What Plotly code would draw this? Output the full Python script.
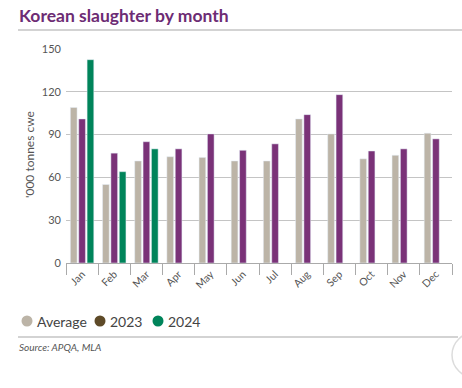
import plotly.graph_objects as go

months = ["Jan", "Feb", "Mar", "Apr", "May", "Jun", "Jul", "Aug", "Sep", "Oct", "Nov", "Dec"]
average = [109, 55, 71.5, 74.5, 74, 71.5, 71.5, 101, 90.5, 73, 75.5, 91]
y2023 = [101, 77, 85, 80, 90.5, 79, 83.5, 104, 118, 78.5, 80, 87]
y2024 = [142.5, 64, 80]
months_2024 = months[:3]
legend_names = ["Average", "2023", "2024"]

C_AVG = "#bcb4a7"
C_23 = "#7a3278"
C_24 = "#00845a"
C_23_LEG = "#5e4a28"
legend_colors = [C_AVG, C_23_LEG, C_24]

W, H = 462, 388
L, T = 66, 49
R = W - 452
B = H - 263
PW = W - L - R
PH = H - T - B


def px(x):
    return (x - L) / PW


def py(y):
    return (H - B - y) / PH


fig = go.Figure()
fig.add_trace(go.Bar(x=months, y=average, marker_color=C_AVG, name="Average"))
fig.add_trace(go.Bar(x=months, y=y2023, marker_color=C_23, name="2023"))
fig.add_trace(go.Bar(x=months_2024, y=y2024, marker_color=C_24, name="2024"))

annotations = [
    dict(text="<b>Korean slaughter by month</b>", xref="paper", yref="paper",
         x=px(17), y=py(15), xanchor="left", yanchor="middle",
         showarrow=False, font=dict(size=17.5, color="#6d2c74", family="Lato, sans-serif")),
    dict(text="<i>Source: APQA, MLA</i>", xref="paper", yref="paper",
         x=px(17), y=py(347), xanchor="left", yanchor="middle",
         showarrow=False, font=dict(size=10, color="#555")),
    dict(text="'000 tonnes cwe", xref="paper", yref="paper", x=px(29), y=py(155),
         xanchor="center", yanchor="middle", textangle=-90, showarrow=False,
         font=dict(size=12, color="#555")),
]
shapes = [
    dict(type="line", xref="paper", yref="paper", x0=px(18), x1=px(470),
         y0=py(30), y1=py(30), line=dict(color="#a8a8a8", width=1.2)),
    dict(type="line", xref="paper", yref="paper", x0=px(18), x1=px(458),
         y0=py(337), y1=py(337), line=dict(color="#a8a8a8", width=1.2)),
    dict(type="circle", xref="paper", yref="paper", x0=px(452), x1=px(500),
         y0=py(378), y1=py(332), line=dict(color="#dcdcdc", width=1.5), fillcolor="white"),
]

leg_cx = [27, 100, 158]
for name, col, cx in zip(legend_names, legend_colors, leg_cx):
    shapes.append(dict(type="circle", xref="paper", yref="paper",
                       x0=px(cx - 5.5), x1=px(cx + 5.5), y0=py(326.5), y1=py(315.5),
                       line=dict(width=0), fillcolor=col))
    annotations.append(dict(text=name, xref="paper", yref="paper", x=px(cx + 8), y=py(321),
                            xanchor="left", yanchor="middle", showarrow=False,
                            font=dict(size=14, color="#444")))

fig.update_layout(
    width=W, height=H,
    margin=dict(l=L, r=R, t=T, b=B, autoexpand=False),
    paper_bgcolor="white", plot_bgcolor="white",
    barmode="group", bargap=0.22, bargroupgap=0.2,
    font=dict(family="Lato, 'Open Sans', sans-serif", color="#555"),
    showlegend=False,
    annotations=annotations,
    shapes=shapes,
)

fig.update_xaxes(
    tickangle=-45, tickfont=dict(size=10.5, color="#555"),
    showline=True, linecolor="#aaaaaa", linewidth=1,
    ticks="outside", tickson="boundaries", ticklen=11, tickcolor="#aaaaaa",
    showgrid=False, fixedrange=True, automargin=False,
)
fig.update_yaxes(
    range=[0, 150], tickvals=[0, 30, 60, 90, 120, 150],
    tickfont=dict(size=11, color="#555"),
    showgrid=True, gridcolor="#c4c4c4", gridwidth=1,
    zeroline=True, zerolinecolor="#aaaaaa", zerolinewidth=1,
    ticks="", ticklabelstandoff=4, automargin=False, fixedrange=True,
)

fig.write_html(
    "out.html",
    config={"displayModeBar": False},
    post_script="document.body.style.margin='0';document.body.style.overflow='hidden';",
)
